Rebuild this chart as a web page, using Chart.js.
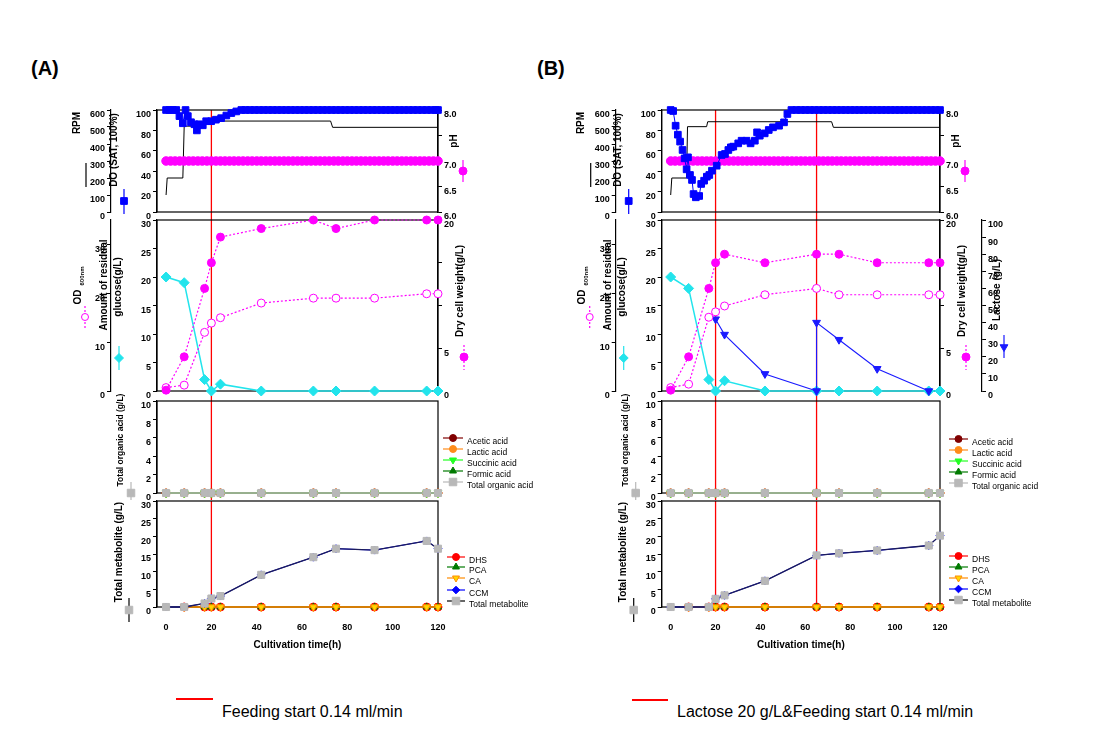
<!DOCTYPE html>
<html><head><meta charset="utf-8">
<script src="https://cdn.jsdelivr.net/npm/chart.js@4.4.1/dist/chart.umd.min.js"></script>
<style>
html,body{margin:0;padding:0;background:#fff;}
#wrap{position:relative;width:1099px;height:738px;overflow:hidden;font-family:"Liberation Sans",Arial,sans-serif;background:#fff;}
canvas{position:absolute;}
.plab{position:absolute;font-weight:bold;font-size:20px;line-height:22px;color:#000;}
.leg{position:absolute;font-size:16px;line-height:17px;color:#000;white-space:nowrap;}
.red{position:absolute;height:1.5px;background:#ff0000;}
</style></head><body><div id="wrap">
<div class="plab" style="left:31px;top:57px">(A)</div>
<div class="plab" style="left:537px;top:57px">(B)</div>
<div class="red" style="left:176px;top:698px;width:37px"></div>
<div class="leg" style="left:222px;top:703px">Feeding start 0.14 ml/min</div>
<div class="red" style="left:632px;top:699px;width:36px"></div>
<div class="leg" style="left:677px;top:703px">Lactose 20 g/L&amp;Feeding start 0.14 ml/min</div>
</div>
<script>
// ---------------- DATA ----------------
const sampleTime = [0, 8, 17, 20, 24, 42, 65, 75, 92, 115, 120];
const xTickValues = [0, 20, 40, 60, 80, 100, 120];
const doTickValues = [0, 20, 40, 60, 80, 100];
const rpmTickValues = [0, 100, 200, 300, 400, 500, 600];
const phTickValues = [6.0, 6.5, 7.0, 7.5, 8.0];
const glucoseTickValues = [0, 5, 10, 15, 20, 25, 30];
const odTickValues = [0, 10, 20, 30];
const dcwTickValues = [0, 5, 10, 15, 20];
const lactoseTickValues = [0, 10, 20, 30, 40, 50, 60, 70, 80, 90, 100];
const acidTickValues = [0, 2, 4, 6, 8, 10];
const metaboliteTickValues = [0, 5, 10, 15, 20, 25, 30];
const feedTimesA = [20];
const feedTimesB = [20, 65];

// Online data, panel A
const doTimeA = [0, 1.5, 3, 4.5, 5.9, 7.4, 8.6, 9.6, 11, 12.5, 13.6, 14.7, 16.2, 17.7, 19.9, 22, 24.3, 26.6, 28.8, 31, 33.2,
  35, 37, 39, 41, 43, 45, 47, 49, 51, 53, 55, 57, 59, 61, 63, 65, 67, 69, 71, 73, 75, 77, 79, 81, 83, 85, 87, 89, 91, 93, 95, 97, 99, 101, 103, 105, 107, 109, 111, 113, 115, 117, 119, 120];
const doA = [100, 100, 100, 100, 94, 87, 100, 94, 88, 86, 80, 86, 85, 89, 89, 90.5, 92, 94.6, 97, 98.6, 100,
  100, 100, 100, 100, 100, 100, 100, 100, 100, 100, 100, 100, 100, 100, 100, 100, 100, 100, 100, 100, 100, 100, 100, 100, 100, 100, 100, 100, 100, 100, 100, 100, 100, 100, 100, 100, 100, 100, 100, 100, 100, 100, 100, 100];
const rpmTimeA = [0, 0.5, 7.4, 8, 17, 18, 72.6, 73.5, 120];
const rpmA = [100, 200, 200, 505, 505, 535, 535, 498, 498];
const phTime = [0, 2, 4, 6, 8, 10, 12, 14, 16, 18, 20, 22, 24, 26, 28, 30, 32, 34, 36, 38, 40, 42, 44, 46, 48, 50, 52, 54, 56, 58, 60,
  62, 64, 66, 68, 70, 72, 74, 76, 78, 80, 82, 84, 86, 88, 90, 92, 94, 96, 98, 100, 102, 104, 106, 108, 110, 112, 114, 116, 118, 120];
const phA = [7.0, 7.0, 7.0, 7.0, 7.0, 7.0, 7.0, 7.0, 7.0, 7.0, 7.0, 7.0, 7.0, 7.0, 7.0, 7.0, 7.0, 7.0, 7.0, 7.0, 7.0, 7.0, 7.0, 7.0, 7.0, 7.0, 7.0, 7.0, 7.0, 7.0, 7.0,
  7.0, 7.0, 7.0, 7.0, 7.0, 7.0, 7.0, 7.0, 7.0, 7.0, 7.0, 7.0, 7.0, 7.0, 7.0, 7.0, 7.0, 7.0, 7.0, 7.0, 7.0, 7.0, 7.0, 7.0, 7.0, 7.0, 7.0, 7.0, 7.0, 7.0];

// Online data, panel B
const doTimeB = [0, 1.1, 2.2, 3.2, 4.2, 5.3, 6.2, 7.1, 7.7, 8.6, 9.5, 10.2, 11.2, 12.7, 13.6, 14.9, 16.1, 17.2, 18.4, 20.5, 22.7, 24.2, 25.7, 26.8, 27.9, 30.1, 31.6, 33.8, 35.6, 37.5, 38.5, 39.7, 41.9, 43.7, 45.6, 48.3, 50.5, 52, 53.8,
  56, 58, 60, 62, 64, 66, 68, 70, 72, 74, 76, 78, 80, 82, 84, 86, 88, 90, 92, 94, 96, 98, 100, 102, 104, 106, 108, 110, 112, 114, 116, 118, 120];
const doB = [100, 99, 84.6, 75.8, 69, 60.8, 52.6, 41.8, 53.6, 36.3, 31.4, 17.6, 14.4, 15.7, 27.5, 30.7, 34.6, 36.3, 40.5, 45.4, 55.9, 56.9, 60.8, 63.4, 64.1, 67.3, 69.9, 69.9, 67.3, 69.9, 78.1, 74.8, 77.1, 80.4, 83, 84.6, 87.9, 96.1, 100,
  100, 100, 100, 100, 100, 100, 100, 100, 100, 100, 100, 100, 100, 100, 100, 100, 100, 100, 100, 100, 100, 100, 100, 100, 100, 100, 100, 100, 100, 100, 100, 100, 100];
const rpmTimeB = [0, 0.5, 7.1, 7.5, 16, 16.5, 71.7, 72.5, 120];
const rpmB = [100, 200, 200, 502, 502, 531, 531, 498, 498];
const phB = [7.0, 7.0, 7.0, 7.0, 7.0, 7.0, 7.0, 7.0, 7.0, 7.0, 7.0, 7.0, 7.0, 7.0, 7.0, 7.0, 7.0, 7.0, 7.0, 7.0, 7.0, 7.0, 7.0, 7.0, 7.0, 7.0, 7.0, 7.0, 7.0, 7.0, 7.0,
  7.0, 7.0, 7.0, 7.0, 7.0, 7.0, 7.0, 7.0, 7.0, 7.0, 7.0, 7.0, 7.0, 7.0, 7.0, 7.0, 7.0, 7.0, 7.0, 7.0, 7.0, 7.0, 7.0, 7.0, 7.0, 7.0, 7.0, 7.0, 7.0, 7.0];

// Growth data
const glucoseA = [20.0, 19.0, 2.0, 0, 1.2, 0, 0, 0, 0, 0, 0];
const odA = [0.7, 1.2, 12.0, 13.9, 15.0, 18.0, 19.0, 19.0, 19.0, 19.9, 19.9];
const dcwA = [0.1, 4.0, 12.0, 15.0, 18.0, 19.0, 20.0, 19.0, 20.0, 20.0, 20.0];
const glucoseB = [20.0, 18.0, 2.0, 0, 1.8, 0, 0, 0, 0, 0, 0];
const odB = [0.7, 1.4, 15.1, 16.2, 17.4, 19.7, 21.0, 19.7, 19.7, 19.7, 19.7];
const dcwB = [0.1, 4.0, 12.0, 15.0, 16.0, 15.0, 16.0, 16.0, 15.0, 15.0, 15.0];
const lactoseTimeB = [20, 24, 42, 65, 65, 75, 92, 115];
const lactoseB = [42, 33, 10, 0, 40, 30, 13, 0];

// Organic acids (g/L)
const aceticA = [0, 0, 0, 0, 0, 0, 0, 0, 0, 0, 0];
const lacticA = [0, 0, 0, 0, 0, 0, 0, 0, 0, 0, 0];
const succinicA = [0, 0, 0, 0, 0, 0, 0, 0, 0, 0, 0];
const formicA = [0, 0, 0, 0, 0, 0, 0, 0, 0, 0, 0];
const totalAcidA = [0, 0, 0, 0, 0, 0, 0, 0, 0, 0, 0];
const aceticB = [0, 0, 0, 0, 0, 0, 0, 0, 0, 0, 0];
const lacticB = [0, 0, 0, 0, 0, 0, 0, 0, 0, 0, 0];
const succinicB = [0, 0, 0, 0, 0, 0, 0, 0, 0, 0, 0];
const formicB = [0, 0, 0, 0, 0, 0, 0, 0, 0, 0, 0];
const totalAcidB = [0, 0, 0, 0, 0, 0, 0, 0, 0, 0, 0];

// Metabolites (g/L)
const dhsA = [null, 0, 0, 0, 0, 0, 0, 0, 0, 0, 0];
const pcaA = [null, 0, 0, 0, 0, 0, 0, 0, 0, 0, 0];
const caA = [null, 0, 0, 0, 0, 0, 0, 0, 0, 0, 0];
const ccmA = [0, 0, 1.0, 2.4, 3.1, 9.1, 14.1, 16.5, 16.1, 18.7, 16.5];
const totalMetA = [0, 0, 1.0, 2.4, 3.1, 9.1, 14.1, 16.5, 16.1, 18.7, 16.5];
const dhsB = [null, 0, 0, 0, 0, 0, 0, 0, 0, 0, 0];
const pcaB = [null, 0, 0, 0, 0, 0, 0, 0, 0, 0, 0];
const caB = [null, 0, 0, 0, 0, 0, 0, 0, 0, 0, 0];
const ccmB = [0, 0, 0, 2.3, 3.3, 7.4, 14.6, 15.2, 16.0, 17.4, 20.2];
const totalMetB = [0, 0, 0, 2.3, 3.3, 7.4, 14.6, 15.2, 16.0, 17.4, 20.2];

// ---------------- RENDERING ----------------
const FONT = "'Liberation Sans', Arial, sans-serif";
Chart.defaults.font.family = FONT;
Chart.defaults.color = '#000';
const MAG = '#ff00ff', CYAN = '#22e4ec', BLUE = '#0000ff', GRAY = '#b8b8b8';
const TICKFONT = {family: FONT, size: 9, weight: 'bold'};
const DECO = {};
const pts = (xs, ys) => xs.map((x, i) => ({x: x, y: ys[i]}));

function drawMark(ctx, st, x, y, r, f, s) {
  ctx.beginPath();
  if (st === 'circle') ctx.arc(x, y, r, 0, Math.PI * 2);
  else if (st === 'rect') { const q = r * 0.75; ctx.rect(x - q, y - q, 2 * q, 2 * q); }
  else if (st === 'rectRot') { ctx.moveTo(x, y - r); ctx.lineTo(x + r, y); ctx.lineTo(x, y + r); ctx.lineTo(x - r, y); ctx.closePath(); }
  else if (st === 'triangle') { ctx.moveTo(x, y - r); ctx.lineTo(x + r * 0.87, y + r * 0.5); ctx.lineTo(x - r * 0.87, y + r * 0.5); ctx.closePath(); }
  else if (st === 'triangleDown') { ctx.moveTo(x, y + r); ctx.lineTo(x + r * 0.87, y - r * 0.5); ctx.lineTo(x - r * 0.87, y - r * 0.5); ctx.closePath(); }
  if (f) { ctx.fillStyle = f; ctx.fill(); }
  if (s) { ctx.strokeStyle = s; ctx.lineWidth = 1; ctx.stroke(); }
}

const panelPlugin = {
  id: 'panelDeco',
  beforeDatasetsDraw(chart) {
    const d = DECO[chart.canvas.id], a = chart.chartArea, ctx = chart.ctx;
    ctx.save();
    ctx.strokeStyle = '#ff0000'; ctx.lineWidth = 1.3;
    d.feed.forEach(t => {
      const x = chart.scales.x.getPixelForValue(t);
      ctx.beginPath(); ctx.moveTo(x, a.top); ctx.lineTo(x, a.bottom + d.gap); ctx.stroke();
    });
    ctx.strokeStyle = '#000'; ctx.lineWidth = 1.2;
    ctx.strokeRect(a.left, a.top, a.right - a.left, a.bottom - a.top);
    ctx.restore();
  },
  afterDraw(chart) {
    const d = DECO[chart.canvas.id], ctx = chart.ctx;
    ctx.save();
    d.items.forEach(it => {
      if (it.k === 'text') {
        ctx.save();
        ctx.fillStyle = '#000';
        ctx.font = (it.w || 'bold') + ' ' + it.size + 'px ' + FONT;
        ctx.textBaseline = 'middle';
        ctx.textAlign = it.align || 'center';
        ctx.translate(it.x - d.ox, it.y - d.oy);
        if (it.rot) ctx.rotate(-Math.PI / 2);
        ctx.fillText(it.s, 0, 0);
        ctx.restore();
      } else if (it.k === 'vl' || it.k === 'hl') {
        ctx.save();
        ctx.strokeStyle = it.c; ctx.lineWidth = it.lw || 1.2;
        ctx.setLineDash(it.dash ? [2, 2] : []);
        ctx.beginPath();
        if (it.k === 'vl') { ctx.moveTo(it.x - d.ox, it.y1 - d.oy); ctx.lineTo(it.x - d.ox, it.y2 - d.oy); }
        else { ctx.moveTo(it.x1 - d.ox, it.y - d.oy); ctx.lineTo(it.x2 - d.ox, it.y - d.oy); }
        ctx.stroke();
        ctx.restore();
      } else if (it.k === 'mk') {
        drawMark(ctx, it.st, it.x - d.ox, it.y - d.oy, it.r, it.f, it.s);
      }
    });
    ctx.restore();
  }
};

function yScale(c) {
  return {
    type: 'linear', position: c.pos, min: c.min, max: c.max, weight: c.weight || 0,
    afterBuildTicks: s => { s.ticks = c.ticks.map(v => ({value: v})); },
    afterFit: s => { s.width = c.width; s.paddingTop = 0; s.paddingBottom = 0; },
    ticks: { color: '#000', font: TICKFONT, padding: 2, autoSkip: false, labelOffset: 5,
      callback: c.cb || (v => String(v)) },
    grid: { display: true, drawOnChartArea: false, drawTicks: true, tickLength: 4, color: '#000', lineWidth: 1 },
    border: { display: true, color: '#000', width: 1.2 }
  };
}
function xScale(show) {
  return {
    type: 'linear', min: -4, max: 120, display: show,
    afterBuildTicks: s => { s.ticks = xTickValues.map(v => ({value: v})); },
    afterFit: s => { if (show) s.height = 48; s.paddingLeft = 0; s.paddingRight = 0; },
    ticks: { color: '#000', font: TICKFONT, padding: 10, autoSkip: false, maxRotation: 0,
      callback: v => String(v) },
    grid: { display: true, drawOnChartArea: false, drawTicks: true, tickLength: 5, tickColor: 'rgba(0,0,0,0)' },
    border: { display: false },
    title: { display: show, text: 'Cultivation time(h)', color: '#000', font: {family: FONT, size: 10, weight: 'bold'}, padding: {top: 4, bottom: 4} }
  };
}
function ds(o) {
  return Object.assign({ clip: false, showLine: true, borderWidth: 1, pointBorderWidth: 1, pointRadius: 4,
    pointHoverRadius: 0, tension: 0, fill: false }, o);
}
function makeChart(id, pos, cfg) {
  const cv = document.createElement('canvas');
  cv.id = id; cv.width = pos.w; cv.height = pos.h;
  cv.style.left = pos.l + 'px'; cv.style.top = pos.t + 'px';
  cv.style.width = pos.w + 'px'; cv.style.height = pos.h + 'px';
  document.getElementById('wrap').appendChild(cv);
  DECO[id] = {ox: pos.l, oy: pos.t, feed: cfg.feed, gap: cfg.gap, items: cfg.items};
  return new Chart(cv, {
    type: 'line',
    data: {datasets: cfg.datasets},
    options: {
      responsive: false, animation: false, devicePixelRatio: 1,
      layout: {padding: cfg.padding},
      plugins: {legend: {display: false}, tooltip: {enabled: false}},
      events: [],
      scales: cfg.scales
    },
    plugins: [panelPlugin]
  });
}
function sideLegend(entries, x1, x2, tx, ys) {
  const items = [];
  entries.forEach((e, i) => {
    items.push({k: 'hl', y: ys[i], x1: x1, x2: x2, c: e.line});
    items.push({k: 'mk', x: (x1 + x2) / 2, y: ys[i], st: e.st, r: e.r, f: e.f, s: e.s});
    items.push({k: 'text', x: tx, y: ys[i] + 4, s: e.name, size: 8.5, w: 'normal', align: 'left'});
  });
  return items;
}
const acidEntries = [
  {name: 'Acetic acid', st: 'circle', r: 3.5, f: '#800000', s: '#800000', line: '#800000'},
  {name: 'Lactic acid', st: 'circle', r: 3.5, f: '#ff8c1a', s: '#ff8c1a', line: '#ff8c1a'},
  {name: 'Succinic acid', st: 'triangleDown', r: 4, f: '#22ff22', s: '#22ff22', line: '#22ff22'},
  {name: 'Formic acid', st: 'triangle', r: 4, f: '#007a00', s: '#007a00', line: '#007a00'},
  {name: 'Total organic acid', st: 'rect', r: 5, f: GRAY, s: GRAY, line: GRAY}
];
const metEntries = [
  {name: 'DHS', st: 'circle', r: 3.5, f: '#ff0000', s: '#ff0000', line: '#ff0000'},
  {name: 'PCA', st: 'triangle', r: 4, f: '#007a00', s: '#007a00', line: '#007a00'},
  {name: 'CA', st: 'triangleDown', r: 4, f: '#ffd700', s: '#ff8c00', line: '#ff8c00'},
  {name: 'CCM', st: 'rectRot', r: 3.8, f: BLUE, s: BLUE, line: BLUE},
  {name: 'Total metabolite', st: 'rect', r: 5, f: GRAY, s: GRAY, line: '#000'}
];

function buildSide(side) {
  const isA = side === 'A';
  const L = isA ? 0 : 540, W = isA ? 549 : 559;
  const dl = isA ? 0 : 504.7, dr = isA ? 0 : 502;
  const padL1 = isA ? 81 : 45.7, padL3 = isA ? 111 : 75.7;
  const padR1 = isA ? 71 : 119, padR2 = isA ? 71 : 87, padR3 = isA ? 111 : 159;
  const feed = isA ? feedTimesA : feedTimesB;
  const D = isA ? {doT: doTimeA, doV: doA, rT: rpmTimeA, rV: rpmA, ph: phA, glu: glucoseA, od: odA, dcw: dcwA,
      ac: aceticA, la: lacticA, su: succinicA, fo: formicA, ta: totalAcidA, dhs: dhsA, pca: pcaA, ca: caA, ccm: ccmA, tm: totalMetA}
    : {doT: doTimeB, doV: doB, rT: rpmTimeB, rV: rpmB, ph: phB, glu: glucoseB, od: odB, dcw: dcwB,
      ac: aceticB, la: lacticB, su: succinicB, fo: formicB, ta: totalAcidB, dhs: dhsB, pca: pcaB, ca: caB, ccm: ccmB, tm: totalMetB};

  // Panel 1: DO / RPM / pH
  makeChart('p1' + side, {l: L, t: 95, w: W, h: 127}, {
    feed: feed, gap: 8, padding: {left: padL1, right: padR1, top: 15, bottom: 10},
    scales: {
      x: xScale(false),
      do: yScale({pos: 'left', min: 0, max: 100, ticks: doTickValues, width: 46}),
      rpm: yScale({pos: 'left', min: 0, max: 600, ticks: rpmTickValues, width: 30, weight: 1}),
      ph: yScale({pos: 'right', min: 6, max: 8, ticks: phTickValues, width: 40, cb: v => v === 7.5 ? '' : v.toFixed(1)})
    },
    datasets: [
      ds({label: 'DO', data: pts(D.doT, D.doV), yAxisID: 'do', borderColor: BLUE, pointStyle: 'rect', pointRadius: 4.7,
        pointBackgroundColor: BLUE, pointBorderColor: BLUE}),
      ds({label: 'pH', data: pts(phTime, D.ph), yAxisID: 'ph', showLine: false, pointStyle: 'circle', pointRadius: 4.3,
        pointBackgroundColor: MAG, pointBorderColor: MAG}),
      ds({label: 'RPM', data: pts(D.rT, D.rV), yAxisID: 'rpm', borderColor: '#000', borderWidth: 1, pointRadius: 0})
    ],
    items: [
      {k: 'text', x: 77 + dl, y: 123, s: 'RPM', size: 10, rot: true},
      {k: 'vl', x: 86 + dl, y1: 163, y2: 187, c: '#000'},
      {k: 'text', x: 114 + dl, y: 150, s: 'DO (SAT, 100%)', size: 10, rot: true},
      {k: 'vl', x: 124 + dl, y1: 189, y2: 214, c: BLUE},
      {k: 'mk', x: 124 + dl, y: 201, st: 'rect', r: 4.5, f: BLUE, s: BLUE},
      {k: 'text', x: 454 + dr, y: 141, s: 'pH', size: 10, rot: true},
      {k: 'vl', x: 463 + dr, y1: 160, y2: 182, c: MAG},
      {k: 'mk', x: 463 + dr, y: 171, st: 'circle', r: 4, f: MAG, s: MAG}
    ]
  });

  // Panel 2: glucose / OD / DCW (/ lactose)
  const sc2 = {
    x: xScale(false),
    glu: yScale({pos: 'left', min: 0, max: 30, ticks: glucoseTickValues, width: 46}),
    od: yScale({pos: 'left', min: 0, max: 35, ticks: odTickValues, width: 30, weight: 1}),
    dcw: yScale({pos: 'right', min: 0, max: 20, ticks: dcwTickValues, width: isA ? 40 : 42, cb: v => (v === 10 || v === 15) ? '' : String(v)})
  };
  const ds2 = [
    ds({label: 'DCW', data: pts(sampleTime, D.dcw), yAxisID: 'dcw', borderColor: MAG, borderDash: [2, 2], borderWidth: 1.2,
      pointStyle: 'circle', pointRadius: 4, pointBackgroundColor: MAG, pointBorderColor: MAG}),
    ds({label: 'OD600nm', data: pts(sampleTime, D.od), yAxisID: 'od', borderColor: MAG, borderDash: [2, 2], borderWidth: 1.2,
      pointStyle: 'circle', pointRadius: 4, pointBackgroundColor: '#fff', pointBorderColor: MAG})
  ];
  if (!isA) {
    sc2.lac = yScale({pos: 'right', min: 0, max: 100, ticks: lactoseTickValues, width: 30, weight: 1});
    ds2.push(ds({label: 'Lactose', data: pts(lactoseTimeB, lactoseB), yAxisID: 'lac', borderColor: '#1a1aff', borderWidth: 1.1,
      pointStyle: 'triangle', pointRotation: 180, pointRadius: 4.5, pointBackgroundColor: '#1a1aff', pointBorderColor: '#1a1aff'}));
  }
  ds2.push(ds({label: 'Glucose', data: pts(sampleTime, D.glu), yAxisID: 'glu', borderColor: CYAN, borderWidth: 1.5,
    pointStyle: 'rectRot', pointRadius: 5, pointBackgroundColor: CYAN, pointBorderColor: CYAN}));
  const items2 = [
    {k: 'text', x: 78 + dl, y: 297, s: 'OD', size: 10, rot: true},
    {k: 'text', x: 82 + dl, y: 276, s: '600nm', size: 6, rot: true},
    {k: 'vl', x: 85 + dl, y1: 306, y2: 328, c: MAG, dash: true},
    {k: 'mk', x: 85 + dl, y: 317, st: 'circle', r: 3.5, f: '#fff', s: MAG},
    {k: 'text', x: 104 + dl, y: 285, s: 'Amount of residual', size: 10, rot: true},
    {k: 'text', x: 118 + dl, y: 287, s: 'glucose(g/L)', size: 10, rot: true},
    {k: 'vl', x: 119 + dl, y1: 346, y2: 370, c: CYAN},
    {k: 'mk', x: 119 + dl, y: 358, st: 'rectRot', r: 4.5, f: CYAN, s: CYAN},
    {k: 'text', x: 460 + dr, y: 291, s: 'Dry cell weight(g/L)', size: 10, rot: true},
    {k: 'vl', x: 464 + dr, y1: 345, y2: 370, c: MAG, dash: true},
    {k: 'mk', x: 464 + dr, y: 357, st: 'circle', r: 4, f: MAG, s: MAG}
  ];
  if (!isA) {
    items2.push({k: 'text', x: 997, y: 290, s: 'Lactose (g/L)', size: 10, rot: true});
    items2.push({k: 'vl', x: 1004, y1: 335, y2: 358, c: '#1a1aff'});
    items2.push({k: 'mk', x: 1004, y: 347, st: 'triangleDown', r: 4.5, f: '#1a1aff', s: '#1a1aff'});
  }
  makeChart('p2' + side, {l: L, t: 212, w: W, h: 192}, {
    feed: feed, gap: 10, padding: {left: padL1, right: padR2, top: 8, bottom: 13},
    scales: sc2, datasets: ds2, items: items2
  });

  // Panel 3: organic acids
  const lx1 = isA ? 443 : 949, lx2 = isA ? 463 : 968, ltx = isA ? 467 : 972;
  makeChart('p3' + side, {l: L, t: 390, w: W, h: 110}, {
    feed: feed, gap: 8, padding: {left: padL3, right: padR3, top: 11, bottom: 7},
    scales: {
      x: xScale(false),
      acid: yScale({pos: 'left', min: 0, max: 10, ticks: acidTickValues, width: 46})
    },
    datasets: [
      ds({label: 'Total organic acid', data: pts(sampleTime, D.ta), yAxisID: 'acid', borderColor: GRAY, borderWidth: 1.5,
        pointStyle: 'rect', pointRadius: 5, pointBackgroundColor: GRAY, pointBorderColor: GRAY}),
      ds({label: 'Formic acid', data: pts(sampleTime, D.fo), yAxisID: 'acid', borderColor: '#007a00',
        pointStyle: 'triangle', pointRadius: 4, pointBackgroundColor: '#007a00', pointBorderColor: '#007a00'}),
      ds({label: 'Succinic acid', data: pts(sampleTime, D.su), yAxisID: 'acid', borderColor: '#22ff22',
        pointStyle: 'triangle', pointRotation: 180, pointRadius: 4.5, pointBackgroundColor: '#22ff22', pointBorderColor: '#22ff22'}),
      ds({label: 'Lactic acid', data: pts(sampleTime, D.la), yAxisID: 'acid', borderColor: '#ff8c1a',
        pointStyle: 'circle', pointRadius: 4, pointBackgroundColor: '#ff8c1a', pointBorderColor: '#ff8c1a'}),
      ds({label: 'Acetic acid', data: pts(sampleTime, D.ac), yAxisID: 'acid', borderColor: '#800000',
        pointStyle: 'circle', pointRadius: 4, pointBackgroundColor: '#800000', pointBorderColor: '#800000'})
    ],
    items: [
      {k: 'text', x: 121 + dl, y: 440, s: 'Total organic acid (g/L)', size: 8.5, rot: true},
      {k: 'vl', x: 131 + dl, y1: 482, y2: 504, c: GRAY},
      {k: 'mk', x: 131 + dl, y: 493, st: 'rect', r: 5, f: GRAY, s: GRAY}
    ].concat(sideLegend(acidEntries, lx1, lx2, ltx, isA ? [438, 449, 460, 471, 482] : [439, 450, 461, 472, 483]))
  });

  // Panel 4: metabolites
  const mx1 = isA ? 447 : 949, mx2 = isA ? 465 : 968, mtx = isA ? 469 : 972;
  makeChart('p4' + side, {l: L, t: 493, w: W, h: 167}, {
    feed: feed, gap: 0, padding: {left: padL3, right: padR3, top: 8, bottom: 5},
    scales: {
      x: xScale(true),
      met: yScale({pos: 'left', min: 0, max: 30, ticks: metaboliteTickValues, width: 46})
    },
    datasets: [
      ds({label: 'Total metabolite', data: pts(sampleTime, D.tm), yAxisID: 'met', borderColor: '#1c1c5a', borderWidth: 1.3,
        pointStyle: 'rect', pointRadius: 5, pointBackgroundColor: GRAY, pointBorderColor: GRAY}),
      ds({label: 'CCM', data: pts(sampleTime, D.ccm), yAxisID: 'met', borderColor: BLUE, borderWidth: 1,
        pointStyle: 'rectRot', pointRadius: 4, pointBackgroundColor: BLUE, pointBorderColor: BLUE}),
      ds({label: 'CA', data: pts(sampleTime, D.ca), yAxisID: 'met', borderColor: '#ff8c00', borderWidth: 1.4,
        pointStyle: 'triangle', pointRotation: 180, pointRadius: 4.5, pointBackgroundColor: '#ffd700', pointBorderColor: '#ff8c00'}),
      ds({label: 'PCA', data: pts(sampleTime, D.pca), yAxisID: 'met', borderColor: '#007a00',
        pointStyle: 'triangle', pointRadius: 4, pointBackgroundColor: '#007a00', pointBorderColor: '#007a00'}),
      ds({label: 'DHS', data: pts(sampleTime, D.dhs), yAxisID: 'met', borderColor: '#ff0000',
        pointStyle: 'circle', pointRadius: 4, pointBackgroundColor: '#ff0000', pointBorderColor: '#ff0000'})
    ],
    items: [
      {k: 'text', x: 119 + dl, y: 552, s: 'Total metabolite (g/L)', size: 10, rot: true},
      {k: 'vl', x: 129 + dl, y1: 598, y2: 622, c: '#000'},
      {k: 'mk', x: 129 + dl, y: 610, st: 'rect', r: 5, f: GRAY, s: GRAY}
    ].concat(sideLegend(metEntries, mx1, mx2, mtx, isA ? [557, 567, 578, 590, 601] : [556, 567, 578, 589, 600]))
  });
}
buildSide('A');
buildSide('B');
</script>
</body></html>
